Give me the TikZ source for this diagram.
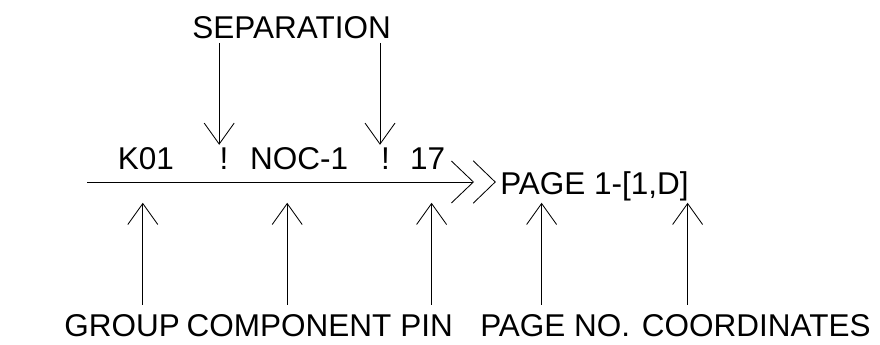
\documentclass[tikz,border=0pt]{standalone}
\usepackage{fontspec}
\setmainfont{Liberation Sans}
\usetikzlibrary{arrows.meta}

\begin{document}
\begin{tikzpicture}[every node/.style={font=\fontsize{22.4}{26}\selectfont, inner sep=0pt},
  pointer/.style={line width=0.6pt, -{Straight Barb[length=0.525cm, width=0.75cm]}}]
  \useasboundingbox (0,0) rectangle (22,8.6);

  % Signal line
  \coordinate (start) at (2.18,4.05);
  \coordinate (tip) at (11.85,4.05);
  \draw[line width=0.6pt, -{Straight Barb[length=0.55cm, width=1.05cm]}] (start) -- (tip);

  % Off-page chevron
  \draw[line width=0.6pt] (11.83,4.58) -- (12.38,4.05) -- (11.83,3.52);

  % Reference text
  \node[anchor=base] (grp) at (3.65,4.35) {K01};
  \node[anchor=base] (bang1) at (5.6,4.35) {!};
  \node[anchor=base] (comp) at (7.48,4.35) {NOC-1};
  \node[anchor=base] (bang2) at (9.64,4.35) {!};
  \node[anchor=base] (pin) at (10.69,4.35) {17};
  \node[anchor=base west] (page) at (12.5,3.725) {PAGE 1-[1,D]};

  % Separation
  \node[anchor=base] (sep) at (7.29,7.625) {SEPARATION};
  \coordinate (sep1) at (5.48,7.53);
  \coordinate (sep1tip) at (5.48,4.98);
  \coordinate (sep2) at (9.5,7.53);
  \coordinate (sep2tip) at (9.5,4.98);
  \draw[pointer] (sep1) -- (sep1tip);
  \draw[pointer] (sep2) -- (sep2tip);

  % Labels
  \node[anchor=base west] (grplab) at (1.6,0.18) {GROUP};
  \node[anchor=base west] (complab) at (4.66,0.18) {COMPONENT};
  \node[anchor=base west] (pinlab) at (10.0,0.18) {PIN};
  \node[anchor=base west] (pagelab) at (12.0,0.18) {PAGE NO.};
  \node[anchor=base west] (coordlab) at (16.04,0.18) {COORDINATES};

  % Pointers up
  \coordinate (grpfoot) at (3.57,0.98);
  \coordinate (grptip) at (3.57,3.53);
  \coordinate (compfoot) at (7.18,0.98);
  \coordinate (comptip) at (7.18,3.53);
  \coordinate (pinfoot) at (10.79,0.98);
  \coordinate (pintip) at (10.79,3.53);
  \coordinate (pagefoot) at (13.54,0.98);
  \coordinate (pagetip) at (13.54,3.53);
  \coordinate (coordfoot) at (17.19,0.98);
  \coordinate (coordtip) at (17.19,3.53);
  \draw[pointer] (grpfoot) -- (grptip);
  \draw[pointer] (compfoot) -- (comptip);
  \draw[pointer] (pinfoot) -- (pintip);
  \draw[pointer] (pagefoot) -- (pagetip);
  \draw[pointer] (coordfoot) -- (coordtip);
\end{tikzpicture}
\end{document}
